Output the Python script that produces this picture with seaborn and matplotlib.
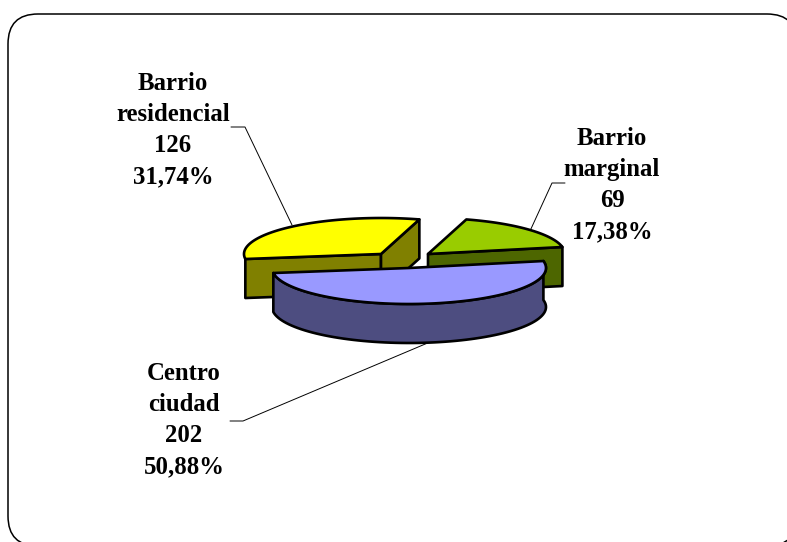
import numpy as np
import matplotlib
matplotlib.use("Agg")
import matplotlib.pyplot as plt
from matplotlib.patches import FancyBboxPatch
import seaborn as sns

# data
categories = ["Barrio\nresidencial", "Barrio\nmarginal", "Centro\nciudad"]
counts = [126, 69, 202]
percents = ["31,74%", "17,38%", "50,88%"]

top_colors = sns.color_palette(["#ffff00", "#99cc00", "#9999ff"])
side_colors = sns.color_palette(["#808000", "#4d6600", "#4d4d80"])

sns.set_theme(style="white")
plt.rcParams["font.family"] = ["Liberation Serif", "DejaVu Serif"]

# pie geometry in pixels
A, B, DEPTH = 137, 36, 39
START = 188
centers = [(381, 254), (428, 254), (409, 268)]


def ell(c, t):
    t = np.radians(t)
    return np.c_[c[0] + A * np.cos(t), c[1] - B * np.sin(t)]


def wall(pts):
    low = pts[::-1] + [0, DEPTH]
    return np.vstack([pts, low])


fig = plt.figure(figsize=(7.87, 5.42), dpi=100)
ax = fig.add_axes([0, 0, 1, 1])
ax.set_xlim(0, 787)
ax.set_ylim(542, 0)
ax.axis("off")

ax.add_patch(FancyBboxPatch((8, 14), 789, 532, boxstyle="round,pad=0,rounding_size=30",
                            fc="white", ec="black", lw=1.1))

# leader lines
ax.plot([231, 245, 292], [127, 127, 225], color="black", lw=0.7)
ax.plot([565, 552, 530], [183, 183, 231], color="black", lw=0.7)
ax.plot([430, 243, 230], [342, 421, 421], color="black", lw=0.7)

shares = np.array(counts) / sum(counts) * 360
ang = START
for i in range(3):
    t0, t1 = ang, ang - shares[i]
    ang = t1
    c = np.array(centers[i], dtype=float)
    ts = np.linspace(t0, t1, 80)
    arc = ell(c, ts)
    z = 3 + i
    kw = dict(ec="black", lw=1.9, joinstyle="round", zorder=z)

    # cut faces, then the outer wall where it faces the viewer
    if i == 0:
        ax.fill(*wall(np.array([arc[0], c])).T, fc=side_colors[i], **kw)
        ax.fill(*wall(np.array([c, arc[-1]])).T, fc=side_colors[i], **kw)
    if i == 1:
        ax.fill(*wall(np.array([c, arc[-1]])).T, fc=side_colors[i], **kw)
    if i == 2:
        ax.fill(*wall(arc).T, fc=side_colors[i], **kw)
    ax.fill(*np.vstack([c, arc]).T, fc=top_colors[i], **kw)

# labels
label_pos = [(173, 130), (612, 185), (184, 420)]
for (x, y), cat, n, p in zip(label_pos, categories, counts, percents):
    ax.text(x, y, f"{cat}\n{n}\n{p}", ha="center", va="center", fontsize=17.8,
            fontweight="bold", color="black", linespacing=1.45, zorder=10)

fig.savefig("out.png", dpi=100, facecolor="white")
